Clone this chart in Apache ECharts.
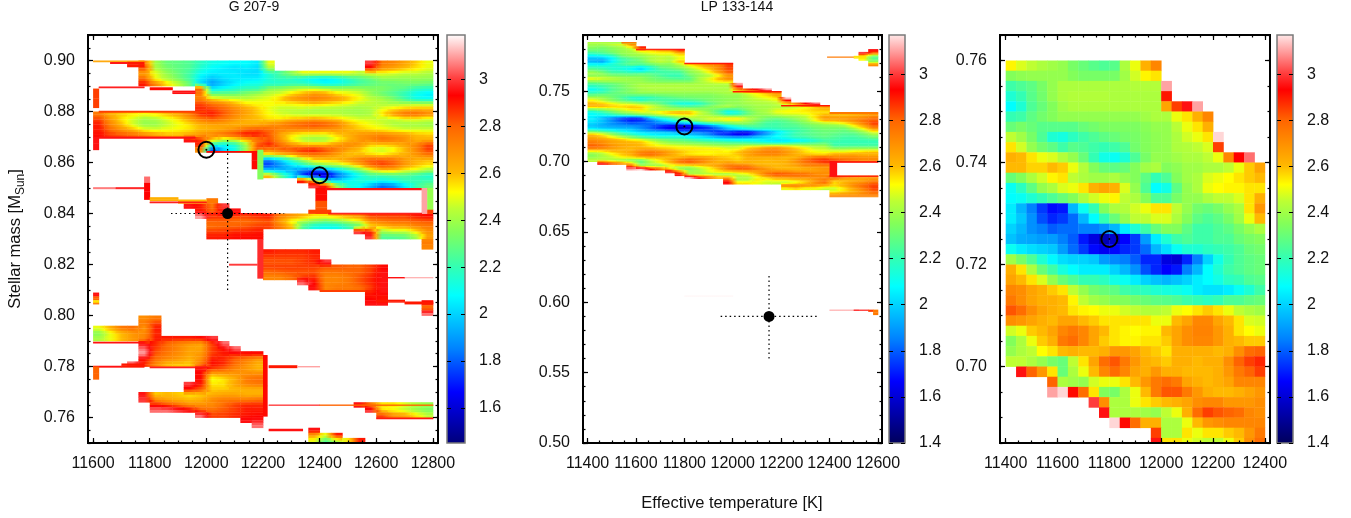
<!DOCTYPE html>
<html><head><meta charset="utf-8">
<style>html,body{margin:0;padding:0;background:#fff}#c{width:1351px;height:518px}</style>
<script src="https://cdn.jsdelivr.net/npm/echarts@6/dist/echarts.min.js"></script>
</head><body><div id="c"></div>
<script>
// Each row: [lower mass x 1000, first column index, chi values x 100 ...]; 0 = no data.
const g207T0 = 11600, g207DT = 40, g207DM = 0.002;
const g207Rows = [
[898,4,275,240,230,228,225,218,212,210,208,208,205,250],[898,24,300,275,272,265,258,250],
[896,4,285,242,233,228,225,215,208,205,203,205,202,242],[896,24,290,270,265,260,255,250],
[894,4,265,250,238,230,222,210,205,205,205,202,202,215,225,238,250,250,250,250,250,245,250,250,248,245,245,242],
[892,4,278,250,242,232,222,205,198,203,205,205,205,215,220,218,212,207,205,210,218,225,230,238,238,238,238,238],
[890,4,290,272,255,245,230,202,190,198,205,210,212,215,215,218,218,212,208,210,215,222,227,230,230,232,232,230],
[888,9,280,205,210,215,220,220,235,238,242,245,245,242,240,240,238,235,235,230,227,220,218],
[886,9,275,230,230,230,235,240,245,248,255,262,268,265,255,252,248,238,230,225,218,210,205],
[884,9,272,255,250,248,245,248,250,258,268,272,275,272,268,260,252,245,242,233,222,212,210],
[882,9,285,278,272,262,255,252,252,252,252,255,258,255,252,250,245,245,242,242,242,242,242],
[880,9,288,285,280,272,265,258,250,245,245,245,242,242,242,240,240,242,250,255,260,262,262],
[878,0,275,262,258,255,252,255,260,265,275,288,290,282,272,265,258,252,248,245,243,243,243,243,242,240,242,255,268,278,280,272],
[876,0,285,268,255,247,240,242,248,255,265,275,280,275,268,262,260,255,255,260,262,265,262,258,252,248,247,245,245,250,250,248],
[874,0,290,272,260,247,238,238,245,250,255,262,265,265,262,262,262,268,272,278,282,285,282,275,262,255,250,247,242,240,240,238],
[872,0,290,278,268,260,250,248,250,252,255,260,262,265,270,278,282,278,272,272,272,272,270,268,262,258,255,252,250,247,247,247],
[870,0,292,285,282,278,272,265,260,260,262,268,272,278,285,292,290,282,265,255,250,250,250,258,262,268,270,272,268,265,260,258],
[868,8,295,285,260,245,250,262,275,282,268,252,242,238,240,250,260,268,272,278,275,270,262,262],
[866,9,290,215,208,215,240,282,290,278,268,262,262,262,268,272,268,258,258,260,265,272,285],
[864,9,270,175,200,212,240,280,272,280,285,290,292,285,275,265,258,248,245,250,260,272,285],
[862,15,250,255,262,272,275,272,265,258,260,258,255,260,262,268,275],
[860,15,185,200,220,240,255,258,260,268,275,282,282,278,268,262,260],
[858,15,175,188,202,215,230,238,242,250,262,278,285,280,268,260,255],
[856,15,200,195,195,185,178,185,200,215,230,248,260,260,252,248,240],
[854,15,260,230,205,175,155,155,178,195,210,222,222,225,225,220,215],
[852,18,290,260,205,200,208,215,215,212,215,220,220,220],
[850,19,300,290,240,215,208,195,182,188,205,220,230],
[844,10,275],
[842,8,295,290,275,300],
[840,9,290,280,295,295],
[838,9,310,288,288,285,285,288,290,275,268,262,255,255,260,265,270,285,285,285,285,290,292],
[836,10,280,280,278,278,280,282,265,250,242,235,230,235,242,250,270,275,278,278,280,282],
[834,10,278,280,280,282,285,285,275,260,225,212,210,210,220,230,255,260,265,265,272,275],
[832,10,285,285,288,288,290],[832,23,300,285,240,245,245,255,270],
[830,10,290,290,292,292,292],[830,24,300,225,225,228,240,265],
[828,29,275],
[826,29,272],
[824,15,290,288,288,288,290],
[822,15,285,285,285,285,288],
[820,15,282,282,282,285,288,300],
[818,15,285,285,285,285,285,282,282,280,280,285,292],
[816,15,278,280,282,282,282,275,275,278,280,285,295],
[814,15,272,272,278,285,288,272,272,275,282,288,295],
[812,18,305,292,272,272,275,282,288,295],
[810,19,295,272,275,275,278,285,295],
[808,24,290,295],
[806,24,292,290],
[804,24,295,295],[804,29,292],
[802,29,275],
[800,29,305],
[798,4,270,275],
[796,4,275,285],
[794,0,250,262,275,278,268,290],
[792,0,235,250,260,268,272,288],
[790,0,242,250,260,268,272,290,290,290,290,292,300],
[788,4,295,288,278,272,268,265,285,305],
[786,4,305,285,278,272,265,265,285,292,305],
[784,4,310,282,275,270,265,268,285,290,290,292,292],
[782,4,292,278,272,268,262,270,290,288,280,275,268],
[780,3,305,288,272,260,258,258,275,292,288,278,270,262],
[778,9,295,285,280,272,268,262],
[776,9,292,262,265,268,270,272],
[774,9,292,250,255,262,275,278],
[772,8,300,290,255,255,265,272,275],
[770,8,290,280,258,258,260,262,262],
[768,4,295,258,260,258,255,258,262,265,265,262,262],
[766,4,300,272,265,262,260,262,272,275,275,275,278],
[764,5,290,285,278,270,270,270,278,285,288,288],[764,23,295,275,255,255,248,242,238],
[762,5,305,305,300,295,280,278,282,285,290,290],[762,24,300,255,250,245,238,233],
[760,9,305,285,285,288,290,292],[760,25,285,270,265,255,245],
[758,13,295,295],
[756,14,305],
[754,19,295],
[752,19,265,250,290],
[750,19,250,225,242,255,290]
];
// Thin features: [T from, T to, mass from, mass to, chi x 100]
const g207Thin = [
[11600,11780,.8995,.9,265],[11660,11720,.8988,.8994,295],[11720,11780,.8975,.8995,290],
[11620,11780,.8893,.8898,295],[11800,11880,.8885,.8895,292],[11880,11960,.887,.8882,295],
[11600,11620,.8815,.889,285],[11620,12000,.8797,.8803,285],[11620,11960,.8695,.8702,295],[11600,11620,.865,.87,295],
[12000,12160,.864,.8645,292],[12160,12180,.8575,.8645,292],[12180,12200,.8535,.865,235],
[11600,11680,.8497,.8503,305],[11680,11780,.8497,.8503,295],[11780,11800,.852,.8545,305],[11780,11800,.8455,.852,293],
[11800,11900,.845,.8464,262],[11900,12000,.844,.8455,260],[11800,12000,.8442,.8447,295],
[12385,12425,.845,.85,292],[12385,12425,.84,.845,282],[12360,12440,.84,.8415,285],[12420,12780,.8493,.8500,295],
[12760,12780,.84,.85,310],[12780,12800,.8415,.85,238],[12780,12800,.84,.8415,285],
[12000,12200,.8398,.8402,295],[12430,12760,.8398,.8403,295],
[12180,12200,.8146,.83,298],[12080,12180,.8197,.8203,300],
[12620,12700,.8147,.8151,295],[12700,12800,.8148,.815,310],
[12600,12700,.8052,.8062,290],[12700,12800,.8045,.8055,290],[12400,12560,.8094,.81,285],
[11600,11620,.8075,.809,295],[11600,11620,.806,.8075,280],[11600,11620,.805,.806,255],[11600,11620,.8045,.805,275],
[11600,11780,.7892,.7897,295],[11600,11700,.7797,.7803,295],[11700,11780,.7797,.7812,290],
[11600,11620,.775,.78,280],[11800,12000,.7795,.78,295],
[12200,12215,.7605,.7845,292],[12220,12320,.7795,.7805,290],[12320,12400,.7798,.7802,310],
[12220,12400,.7647,.7651,300],[12400,12800,.7647,.7651,280],[12600,12800,.7595,.76,292],
[12220,12340,.7548,.7556,295]
];
const lpT0 = 11400, lpDT = 40, lpDM = 0.002;
const lpRows = [
[782,0,240,240,245,248,270],
[780,0,235,232,235,240,248,290],
[778,0,230,230,235,238,242,255,255,260,262,285],[778,29,295],
[776,0,220,225,230,238,240,245,250,252,252,260],[776,28,300,275],
[774,0,205,208,215,230,238,238,242,245,245,252],[774,28,250,230],
[772,0,195,195,205,220,225,233,242,245,242,250],[772,28,252,225],
[770,0,195,192,208,220,228,230,240,245,242,260],[770,29,240],
[768,0,210,210,215,222,228,225,230,235,235,242,255,260,268,272,285],[768,29,270],
[766,0,220,218,215,213,210,205,215,228,232,238,245,255,262,272,285],
[764,0,230,225,218,215,210,202,215,222,225,228,238,245,255,270,282],
[762,0,242,235,225,225,222,225,225,222,222,222,235,240,250,262,280],
[760,0,235,238,235,233,233,233,230,225,220,220,230,238,242,250,265],
[758,0,253,248,245,242,240,238,233,230,227,225,227,242,250,262,272],
[756,0,235,237,238,238,238,238,235,233,233,233,233,240,247,253,255],
[754,0,222,225,228,233,238,242,242,242,242,242,242,242,243,243,243,310],
[752,0,215,220,227,232,238,242,243,243,243,243,242,242,242,242,242,290],
[750,0,208,215,225,230,235,240,242,242,242,242,242,242,242,242,242,265,285,295,310],
[748,0,220,222,228,232,235,238,238,238,238,238,238,238,238,240,242,242,250,255,262,272],
[746,0,230,233,230,227,227,227,227,230,232,234,234,234,234,236,238,238,244,250,255,262],
[744,0,245,240,233,225,215,213,218,222,225,228,230,232,233,235,237,238,242,247,250,255,315],
[742,0,255,247,238,232,228,222,227,225,222,220,222,225,232,235,237,238,242,243,245,248,285],
[740,0,262,260,255,250,248,243,238,230,220,212,210,215,225,233,238,238,240,242,242,245,250,272,293,305],
[738,0,260,260,257,257,260,258,250,243,235,230,228,230,235,240,242,235,237,240,240,242,242,245,250,258,265],
[736,0,230,235,242,247,253,255,245,242,240,240,242,238,235,228,220,225,235,240,242,248,250,252,255,258,260],
[734,0,210,218,228,238,242,248,250,255,262,265,262,248,238,225,208,212,228,238,242,250,252,253,253,255,255],
[732,0,208,210,215,220,225,230,235,242,247,250,253,245,242,235,225,225,233,238,238,242,245,245,248,255,262,260,260,262,265,268],
[730,0,205,195,185,175,168,170,195,210,220,235,242,243,247,250,255,255,245,238,232,230,233,238,242,255,268,268,268,270,272,278],
[728,0,205,198,188,178,172,175,182,195,208,220,230,238,245,245,248,248,242,235,228,225,228,233,240,250,260,260,265,270,278,282],
[726,0,200,195,188,185,180,182,182,185,185,188,195,205,215,222,230,235,235,228,222,222,225,228,233,238,242,245,250,260,272,285],
[724,0,197,193,192,190,190,185,180,170,162,155,158,167,175,190,205,215,222,225,222,222,225,225,230,233,235,235,238,250,262,278],
[722,0,210,205,202,200,198,190,182,175,168,165,168,172,175,182,195,202,210,215,215,218,220,222,225,230,232,232,230,238,250,265],
[720,0,240,233,225,215,207,202,200,200,198,190,187,185,180,172,172,162,160,172,185,200,212,220,225,228,230,230,228,230,238,250],
[718,0,262,255,242,230,222,213,208,205,205,205,200,195,188,178,172,167,170,185,195,208,215,222,225,228,230,227,225,225,230,238],
[716,0,265,260,255,248,238,230,225,220,220,218,212,210,205,200,197,195,197,200,205,208,212,218,220,225,227,225,222,222,225,230],
[714,0,272,270,265,262,258,255,245,238,232,230,228,222,220,218,215,213,212,210,205,203,203,205,210,215,222,222,220,220,220,220],
[712,0,275,270,265,262,262,260,253,245,240,238,235,235,232,230,228,227,225,222,220,218,220,225,225,228,230,220,220,220,220,220],
[710,0,282,278,270,265,262,260,255,253,252,250,250,247,245,243,243,245,250,252,255,258,255,250,245,242,240,225,225,225,225,225],
[708,0,270,268,265,262,260,265,265,260,258,255,255,255,255,255,250,250,260,265,272,272,265,260,255,248,247,240,240,242,242,242],
[706,0,247,250,258,260,265,272,275,272,265,260,255,253,252,253,253,260,265,270,273,273,268,262,255,252,250,252,252,255,258,260],
[704,0,235,242,250,258,262,275,278,272,265,258,255,253,253,255,255,258,265,270,272,272,268,262,260,258,258,265,265,265,262,262],
[702,0,238,242,245,252,255,260,262,260,260,262,268,268,265,260,258,255,262,262,262,262,260,262,270,278,280,272,272,272,270,270],
[700,0,245,245,242,238,233,230,245,255,265,278,282,275,268,262,260,258,262,262,260,262,262,270,280,285,288,285,280,275,272,272],
[698,1,295,280,268,255,230,242,250,260,272,278,272,265,262,268,262,262,260,260,260,262,268,275,280,285],
[696,4,280,242,240,238,247,250,250,255,260,268,275,278,275,265,262,260,262,265,272,272,272],
[694,4,310,315,292,278,255,235,233,242,250,260,275,282,282,275,268,262,260,260,262,265,268],
[692,8,300,270,242,242,250,255,258,260,262,265,270,272,272,268,268,268,270],
[690,9,295,242,242,242,240,238,245,250,262,278,285,282,280,278,272,270],
[688,10,315,292,278,262,262,242,242,250,260,268,270,272,272,272,272,285,275,270,268,268],
[686,14,285,242,242,255,250,255,255,258,260,268,275,262,260,262,265,270],
[684,14,295,255,255,250,247,245,245,250,258,270,278,255,262,268,272,280],
[682,20,275,275,270,268,262,258,262,272,280,285],
[680,20,250,255,250,250,245,245,255,265,275,285],
[678,25,250,255,262,270,280],
[676,25,265,268,268,272,275]
];
const lpThin = [
[11400,11600,.784,.785,242],[11540,11600,.7842,.785,275],
[11600,11800,.7795,.7802,295],[11800,12000,.7695,.7702,292],[12000,12200,.7495,.7502,290],
[12200,12400,.7395,.7402,290],[12400,12600,.7342,.7352,275],
[12400,12600,.6995,.7002,292],[12400,12600,.6895,.6902,290],[12400,12430,.69,.7,295],
[12400,12600,.675,.676,272],[12390,12500,.7742,.7747,275],[12500,12550,.7735,.7752,255],
[11800,12000,.6046,.6049,318],[12400,12520,.5945,.5948,310],[12500,12560,.5943,.5948,295],
[12560,12580,.5935,.5948,285],[12580,12600,.5912,.5948,275]
];
const palette = [
[1.4,0,0,90],[1.67,0,0,255],[1.85,0,128,255],[2.08,0,255,255],[2.2,50,255,180],[2.35,130,255,90],
[2.45,190,255,50],[2.52,255,255,0],[2.6,255,185,0],[2.8,255,100,0],[2.93,255,0,0],[3.0,255,60,60],[3.19,255,255,255]
];
const g207XTicks=[11600,11800,12000,12200,12400,12600,12800];
const g207YTicks=[.76,.78,.80,.82,.84,.86,.88,.90];
const lpXTicks=[11400,11600,11800,12000,12200,12400,12600];
const lpYTicks=[.50,.55,.60,.65,.70,.75];
const zoomXTicks=[11400,11600,11800,12000,12200,12400];
const zoomYTicks=[.70,.72,.74,.76];
const barTicks1=[1.6,1.8,2,2.2,2.4,2.6,2.8,3];
const barTicks2=[1.4,1.6,1.8,2,2.2,2.4,2.6,2.8,3];
const g207Stars={obs:[12075,.84],errT:200,errM:.03,fits:[[12000,.865],[12400,.855]]};
const lpStars={obs:[12150,.59],errT:200,errM:.03,fits:[[11800,.725]]};
const zoomFits=[[11800,.725]];

function color(v){
  if(v<=palette[0][0])return `rgb(${palette[0].slice(1)})`;
  for(let i=1;i<palette.length;i++){
    if(v<=palette[i][0]){const a=palette[i-1],b=palette[i],f=(v-a[0])/(b[0]-a[0]);
      return `rgb(${[1,2,3].map(k=>Math.round(a[k]+(b[k]-a[k])*f))})`;}
  }
  return 'rgb(255,255,255)';
}
// A cell also carries the readings of its four neighbours, for the pm3d-style shaded fill.
function cells(rows,t0,dt,dm){
  const look={};
  rows.forEach(r=>{for(let k=2;k<r.length;k++)if(r[k])look[r[0]+'_'+(r[1]+k-2)]=r[k]/100;});
  const step=Math.round(dm*1000),out=[];
  rows.forEach(r=>{for(let k=2;k<r.length;k++){if(r[k]){
    const c=r[1]+k-2,t=t0+dt*c,m=r[0]/1000,v=r[k]/100;
    const l=look[r[0]+'_'+(c-1)]??v,rr=look[r[0]+'_'+(c+1)]??v;
    const up=look[(r[0]+step)+'_'+c]??v,dn=look[(r[0]-step)+'_'+c]??v;
    out.push([t,m,t+dt,m+dm,v,(l+v)/2,(rr+v)/2,(up-v)/4,(dn-v)/4]);}}});
  return out;
}
const thin=a=>a.map(r=>[r[0],r[2],r[1],r[3],r[4]/100,r[4]/100,r[4]/100,0,0]);
function steps(a,b,s){const o=[];const n=Math.round((b-a)/s);for(let i=0;i<=n;i++)o.push(+(a+i*s).toFixed(5));return o;}

const FONT='"Liberation Sans",Arial,sans-serif', INK='#111';
const grids=[],xAxes=[],yAxes=[],series=[];
const shaded=(p,api)=>{
  const a=api.coord([api.value(0),api.value(3)]),b=api.coord([api.value(2),api.value(1)]);
  const v=api.value(4),l=api.value(5),r=api.value(6),du=api.value(7),dd=api.value(8);
  const w=b[0]-a[0]+.4,h=Math.max(b[1]-a[1]+.4,1);
  const fill=d=>new echarts.graphic.LinearGradient(0,0,1,0,[{offset:0,color:color(l+d)},{offset:.5,color:color(v+d)},{offset:1,color:color(r+d)}]);
  return {type:'group',children:[
    {type:'rect',shape:{x:a[0],y:a[1],width:w,height:h/2+.3},style:{fill:fill(du)}},
    {type:'rect',shape:{x:a[0],y:a[1]+h/2,width:w,height:h/2},style:{fill:fill(dd)}}
  ]};
};
const flat=(p,api)=>{
  const a=api.coord([api.value(0),api.value(3)]),b=api.coord([api.value(2),api.value(1)]);
  return {type:'rect',shape:{x:a[0],y:a[1],width:b[0]-a[0]+.4,height:b[1]-a[1]+.4},style:{fill:color(api.value(4))}};
};
function panel(o){
  const g=grids.length;grids.push({left:o.left,top:35,width:o.width,height:408});
  const xi=xAxes.length,yi=yAxes.length;
  const line={show:true,onZero:false,lineStyle:{color:'#000',width:2}};
  [['bottom',o.xT,5,true],['bottom',o.xM,2.5,false],['top',o.xT,5,false],['top',o.xM,2.5,false]].forEach(([pos,vals,len,lab])=>{
    xAxes.push({gridIndex:g,type:'value',min:o.x[0],max:o.x[1],position:pos,z:10,axisLine:line,splitLine:{show:false},
      axisTick:{show:true,inside:true,length:len,customValues:vals,lineStyle:{color:'#000',width:1.2}},
      axisLabel:{show:lab,customValues:lab?vals:undefined,margin:13,fontSize:16,color:INK,fontFamily:FONT,hideOverlap:false,showMinLabel:true,showMaxLabel:true,formatter:v=>String(v)}});
  });
  [['left',o.yT,5,true],['left',o.yM,2.5,false],['right',o.yT,5,false],['right',o.yM,2.5,false]].forEach(([pos,vals,len,lab],i)=>{
    const ax={gridIndex:g,type:'value',min:o.y[0],max:o.y[1],position:pos,z:10,axisLine:line,splitLine:{show:false},
      axisTick:{show:true,inside:true,length:len,customValues:vals,lineStyle:{color:'#000',width:1.2}},
      axisLabel:{show:lab,customValues:lab?vals:undefined,margin:13,fontSize:16,color:INK,fontFamily:FONT,formatter:v=>(+v).toFixed(2)}};
    if(i===0&&o.yName){Object.assign(ax,{name:'{a|Stellar mass [M}{b|Sun}{a|]}',nameLocation:'middle',nameRotate:90,nameGap:61,
      nameTextStyle:{color:INK,fontFamily:FONT,rich:{a:{fontSize:16.5,lineHeight:24,fontFamily:FONT,color:INK},b:{fontSize:12,lineHeight:12,verticalAlign:'bottom',fontFamily:FONT,color:INK}}}});}
    yAxes.push(ax);
  });
  const idx={xAxisIndex:xi,yAxisIndex:yi};
  series.push({type:'custom',...idx,clip:true,silent:true,z:2,progressive:0,renderItem:o.flat?flat:shaded,
    encode:{x:[0,2],y:[1,3]},data:o.data});
  if(o.star){
    const s=o.star,dot={type:'line',...idx,symbol:'none',silent:true,z:4,clip:true,lineStyle:{color:'#000',width:1.2,type:[1.5,3]}};
    series.push({...dot,data:[[s.obs[0]-s.errT,s.obs[1]],[s.obs[0]+s.errT,s.obs[1]]]});
    series.push({...dot,data:[[s.obs[0],s.obs[1]-s.errM],[s.obs[0],s.obs[1]+s.errM]]});
    series.push({type:'scatter',...idx,symbol:'circle',symbolSize:11,silent:true,z:5,itemStyle:{color:'#000',opacity:1},data:[s.obs]});
  }
  series.push({type:'scatter',...idx,symbol:'circle',symbolSize:16,silent:true,z:5,itemStyle:{color:'rgba(0,0,0,0)',borderColor:'#000',borderWidth:2,opacity:1},data:o.fits});
  series.push({type:'scatter',...idx,symbol:'circle',symbolSize:2,silent:true,z:5,itemStyle:{color:'#000',opacity:1},data:o.fits});
  // colour bar
  const gb=grids.length;grids.push({left:o.bar[0],top:35,width:o.bar[1],height:408});
  const bx=xAxes.length,by=yAxes.length;
  xAxes.push({gridIndex:gb,type:'value',min:0,max:1,show:false});
  const tick={show:true,inside:true,length:4,customValues:o.barT,lineStyle:{color:'#000',width:1}};
  yAxes.push({gridIndex:gb,type:'value',min:o.barR[0],max:o.barR[1],position:'right',z:10,axisLine:{show:false,onZero:false},splitLine:{show:false},axisTick:tick,
    axisLabel:{show:true,customValues:o.barT,margin:14,fontSize:16,color:INK,fontFamily:FONT,showMinLabel:true,formatter:v=>String(v)}});
  yAxes.push({gridIndex:gb,type:'value',min:o.barR[0],max:o.barR[1],position:'left',z:10,axisLine:{show:false,onZero:false},splitLine:{show:false},axisTick:tick,axisLabel:{show:false}});
  const [lo,hi]=o.barR,pts=palette.map(p=>p[0]).filter(v=>v>lo&&v<hi);
  const stops=[hi,...pts.slice().reverse(),lo].map(v=>({offset:(hi-v)/(hi-lo),color:color(v)}));
  series.push({type:'custom',xAxisIndex:bx,yAxisIndex:by,silent:true,z:2,data:[[0,lo,1,hi]],encode:{x:[0,2],y:[1,3]},
    renderItem:(p,api)=>{const a=api.coord([0,hi]),b=api.coord([1,lo]);
      return {type:'rect',shape:{x:a[0],y:a[1],width:b[0]-a[0],height:b[1]-a[1]},
        style:{fill:new echarts.graphic.LinearGradient(0,0,0,1,stops),stroke:'#7a7a7a',lineWidth:1.5}};}});
}
const lpCells=cells(lpRows,lpT0,lpDT,lpDM);
panel({left:88,width:350,x:[11582,12818],y:[.75,.91],xT:g207XTicks,xM:steps(11600,12800,50),yT:g207YTicks,yM:steps(.75,.91,.005),yName:true,
  data:cells(g207Rows,g207T0,g207DT,g207DM).concat(thin(g207Thin)),star:g207Stars,fits:g207Stars.fits,bar:[447,18],barR:[1.45,3.19],barT:barTicks1});
panel({left:583,width:299,x:[11381,12617],y:[.5,.79],xT:lpXTicks,xM:steps(11400,12600,50),yT:lpYTicks,yM:steps(.5,.79,.01),
  data:lpCells.concat(thin(lpThin)),star:lpStars,fits:lpStars.fits,bar:[889,16],barR:[1.4,3.17],barT:barTicks2});
panel({left:1000,width:270,x:[11378,12420],y:[.685,.765],xT:zoomXTicks,xM:steps(11400,12400,50),yT:zoomYTicks,yM:steps(.685,.765,.005),flat:true,
  data:lpCells.filter(c=>c[0]<12400&&c[1]<.759),fits:zoomFits,bar:[1277,16],barR:[1.4,3.17],barT:barTicks2});

const titleStyle={fontSize:14,fontWeight:'normal',color:INK,fontFamily:FONT};
const chart=echarts.init(document.getElementById('c'),null,{renderer:'canvas'});
chart.setOption({
  animation:false,backgroundColor:'#fff',textStyle:{fontFamily:FONT},
  title:[
    {text:'G 207-9',left:254,top:0,textAlign:'center',textStyle:titleStyle,padding:0},
    {text:'LP 133-144',left:737,top:0,textAlign:'center',textStyle:titleStyle,padding:0},
    {text:'Effective temperature [K]',left:732,top:495,textAlign:'center',textStyle:{...titleStyle,fontSize:16.5},padding:0}
  ],
  grid:grids,xAxis:xAxes,yAxis:yAxes,series
});
</script></body></html>
